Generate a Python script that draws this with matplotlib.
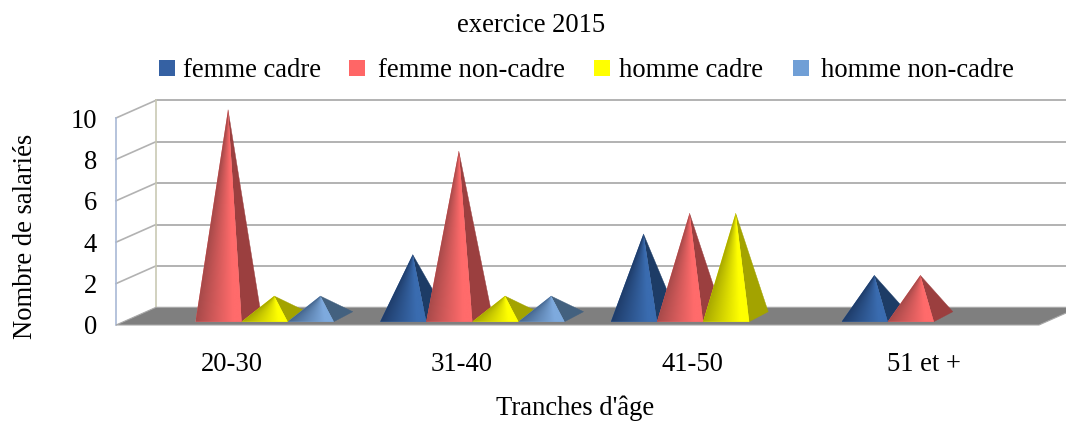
import numpy as np
import matplotlib
matplotlib.use("Agg")
import matplotlib.pyplot as plt
from matplotlib.patches import Polygon, Rectangle
from matplotlib.colors import LinearSegmentedColormap

plt.rcParams['font.family'] = ['Liberation Serif', 'DejaVu Serif']

title = "exercice 2015"
categories = ["20-30", "31-40", "41-50", "51 et +"]
series_names = ["femme cadre", "femme non-cadre", "homme cadre", "homme non-cadre"]
femme_cadre = [0, 3, 4, 2]
femme_non_cadre = [10, 8, 5, 2]
homme_cadre = [1, 1, 5, 0]
homme_non_cadre = [1, 1, 0, 0]
y_ticks = [0, 2, 4, 6, 8, 10]
x_label = "Tranches d'âge"
y_label = "Nombre de salariés"

series_values = [femme_cadre, femme_non_cadre, homme_cadre, homme_non_cadre]
legend_colors = ["#3561a3", "#ff6666", "#ffff00", "#709fd6"]
grad_dark = ["#1f3d6b", "#a84a4a", "#a8a800", "#46678f"]
grad_bright = ["#3a6cb0", "#ff6b6b", "#ffff00", "#7eaade"]
side_colors = ["#1d3c66", "#9b3f3f", "#a3a300", "#43617f"]

W, H = 1066, 421
fig = plt.figure(figsize=(W / 100, H / 100), dpi=100, facecolor="white")
L, R, T, B = 116, 1039, 118, 325
ax = fig.add_axes([L / W, 1 - B / H, (R - L) / W, (B - T) / H])
ax.set_xlim(-0.5, 3.5)
ax.set_ylim(0, 10)
ax.patch.set_alpha(0)
for s in ax.spines.values():
    s.set_visible(False)

xu = (R - L) / 4   # px per category
yu = (B - T) / 10  # px per value
wall_dx, wall_dy = 40 / xu, 17.7 / yu
grid_c = "#b2b2b2"

# floor
ax.add_patch(Polygon([(-0.5, 0), (3.5, 0), (3.5 + wall_dx, wall_dy), (-0.5 + wall_dx, wall_dy)],
                     closed=True, fc="#7f7f7f", ec="#a8a8a8", lw=0.8, clip_on=False, zorder=1))
# walls
for v in y_ticks[1:]:
    ax.plot([-0.5 + wall_dx, 3.5 + wall_dx], [v + wall_dy] * 2, color=grid_c, lw=1.4,
            clip_on=False, zorder=0.5)
    ax.plot([-0.5, -0.5 + wall_dx], [v, v + wall_dy], color=grid_c, lw=1.2,
            clip_on=False, zorder=0.5)
ax.plot([-0.5, -0.5], [0, 10], color="#a9b9d6", lw=1.2, clip_on=False, zorder=0.6)
ax.plot([-0.5 + wall_dx] * 2, [wall_dy, 10 + wall_dy], color="#c9c9b4", lw=1.2,
        clip_on=False, zorder=0.6)

# pyramids
bar_w = 46.1 / xu
base_dx, base_dy = 19 / xu, 10 / yu
front_y = 3.3 / yu
first_left = (149.4 - L) / xu - 0.5
z = 2.0
for s, vals in enumerate(series_values):
    cmap = LinearSegmentedColormap.from_list(
        "g", [(0, grad_dark[s]), (0.8, grad_bright[s]), (1, grad_bright[s])])
    for c, v in enumerate(vals):
        if v == 0:
            continue
        x0 = first_left + c + s * bar_w
        x1 = x0 + bar_w
        apex = (x0 + bar_w / 2 + base_dx / 2, front_y + base_dy / 2 + v)
        side = Polygon([(x1, front_y), (x1 + base_dx, front_y + base_dy), apex], closed=True,
                       fc=side_colors[s], ec=side_colors[s], lw=0.3, zorder=z, clip_on=False)
        ax.add_patch(side)
        z += 0.01
        front = Polygon([(x0, front_y), (x1, front_y), apex], closed=True,
                        fc=grad_bright[s], ec="none", zorder=z, clip_on=False)
        ax.add_patch(front)
        z += 0.01
        # gradient across each horizontal slice of the face
        gx, gy = np.meshgrid(np.linspace(x0, x1, 120), np.linspace(front_y, apex[1], 240))
        h = (gy - front_y) / (apex[1] - front_y)
        left = x0 + (apex[0] - x0) * h
        right = x1 + (apex[0] - x1) * h
        t = np.clip((gx - left) / np.maximum(right - left, 1e-6), 0, 1)
        im = ax.imshow(t, cmap=cmap, aspect="auto", origin="lower", vmin=0, vmax=1,
                       extent=(x0, x1, front_y, apex[1]), zorder=z, interpolation="bilinear")
        im.set_clip_box(fig.bbox)
        im.set_clip_path(front)
        z += 0.01
ax.set_xlim(-0.5, 3.5)
ax.set_ylim(0, 10)

fs = 19.2
ax.set_xticks(range(len(categories)), categories, fontsize=fs)
ax.set_yticks(y_ticks, [str(v) for v in y_ticks], fontsize=fs)
ax.tick_params(axis="both", length=0)
ax.tick_params(axis="x", pad=19.5)
ax.tick_params(axis="y", pad=13.7)
ax.set_xlabel(x_label, fontsize=fs)
ax.xaxis.set_label_coords((575 - L) / (R - L), (B - 408.5) / (B - T))
ax.xaxis.label.set_va("center")
ax.set_ylabel(y_label, fontsize=fs)
ax.yaxis.set_label_coords((26 - L) / (R - L), (B - 236) / (B - T))
ax.yaxis.label.set_va("center")
ax.set_title(title, fontsize=fs, x=(531 - L) / (R - L), y=(B - 26) / (B - T), va="center", pad=0)

# legend
sq_x = [159, 349, 594, 793]
tx_x = [183, 378, 619, 821]
for i, name in enumerate(series_names):
    fig.add_artist(Rectangle((sq_x[i] / W, 1 - 76 / H), 16 / W, 16 / H, transform=fig.transFigure,
                             fc=legend_colors[i], ec="none"))
    fig.text(tx_x[i] / W, 1 - 70.5 / H, name, fontsize=fs, va="center", ha="left")

fig.savefig("out.png", dpi=100, facecolor="white")
